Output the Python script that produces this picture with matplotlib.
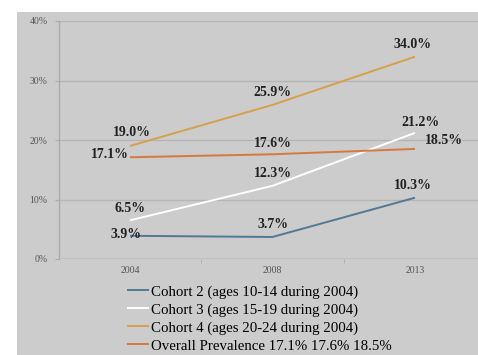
import matplotlib.pyplot as plt
from matplotlib.patches import Rectangle
from matplotlib.font_manager import FontProperties

years = ["2004", "2008", "2013"]
cohort2 = [3.9, 3.7, 10.3]
cohort3 = [6.5, 12.3, 21.2]
cohort4 = [19.0, 25.9, 34.0]
overall = [17.1, 17.6, 18.5]
y_ticks = [0, 10, 20, 30, 40]

series_names = [
    "Cohort 2 (ages 10-14 during 2004)",
    "Cohort 3 (ages 15-19 during 2004)",
    "Cohort 4 (ages 20-24 during 2004)",
    "Overall Prevalence 17.1% 17.6% 18.5%",
]
colors = ["#4f7a97", "#ffffff", "#d6a048", "#d9783c"]

# label offsets in pixels (dx, dy) for each series / point
offsets = [
    [(-4, 1), (0, 12), (-2, 12)],
    [(0, 12), (0, 12), (5, 10)],
    [(2, 13), (0, 12), (-2, 12)],
    [(-20, 3), (0, 11), (29, 8)],
]

W, H = 478, 355
fig = plt.figure(figsize=(W / 100, H / 100), dpi=100)
fig.patch.set_facecolor("white")
# gray slide panel behind the chart
bg = fig.add_axes([0, 0, 1, 1], zorder=0)
bg.axis("off")
bg.add_patch(Rectangle((17 / W, 0), 1 - 17 / W, (H - 12) / H,
                       transform=bg.transAxes, facecolor="#cccccc",
                       edgecolor="none"))

ax = fig.add_axes([58.75 / W, (H - 259) / H, 1 - 58.75 / W, (259 - 21) / H], zorder=2)
ax.set_facecolor("none")

x = list(range(len(years)))
all_series = [cohort2, cohort3, cohort4, overall]
handles = []
for vals, col, name, offs in zip(all_series, colors, series_names, offsets):
    ln, = ax.plot(x, vals, color=col, linewidth=1.4, label=name, zorder=3,
                  solid_capstyle="butt")
    handles.append(ln)
    for xi, v, (dx, dy) in zip(x, vals, offs):
        ax.annotate(f"{v:.1f}%", (xi, v), xytext=(dx, dy),
                    textcoords="offset pixels", ha="center", va="center",
                    fontsize=10, fontweight="bold", family="Liberation Serif",
                    color="#222222", zorder=4)

ax.set_yticks(y_ticks)
ax.set_yticklabels([f"{t}%" for t in y_ticks], family="Liberation Serif",
                   fontsize=7, color="#555555")
ax.set_xticks(x)
ax.set_xticklabels(years, family="Liberation Serif", fontsize=7, color="#555555")
ax.set_xticks([0.5, 1.5, 2.5], minor=True)
# limits after the ticks, the minor tick at 2.5 would widen them otherwise
ax.set_xlim(-0.5, (W - 130) / 142.5)
ax.set_ylim(0, 40)
ax.tick_params(axis="x", which="major", length=0, pad=5)
ax.tick_params(axis="x", which="minor", length=3, color="#aaaaaa", direction="out")
ax.tick_params(axis="y", length=3, color="#aaaaaa", pad=5)
ax.grid(axis="y", color="#b5b5b5", linewidth=1)
for s in ["top", "right", "bottom"]:
    ax.spines[s].set_visible(False)
ax.spines["left"].set_color("#aaaaaa")
ax.spines["left"].set_linewidth(1)
ax.axhline(0, color="#aaaaaa", linewidth=1, zorder=2)

fig.legend(handles=handles, loc="upper left",
           bbox_to_anchor=(127 / W, 1 - 285 / H), frameon=False,
           borderpad=0, borderaxespad=0, handlelength=1.5, handletextpad=0.1,
           labelspacing=0.3,
           prop=FontProperties(family="Liberation Serif", size=10.7))

fig.savefig("out.png", dpi=100)
